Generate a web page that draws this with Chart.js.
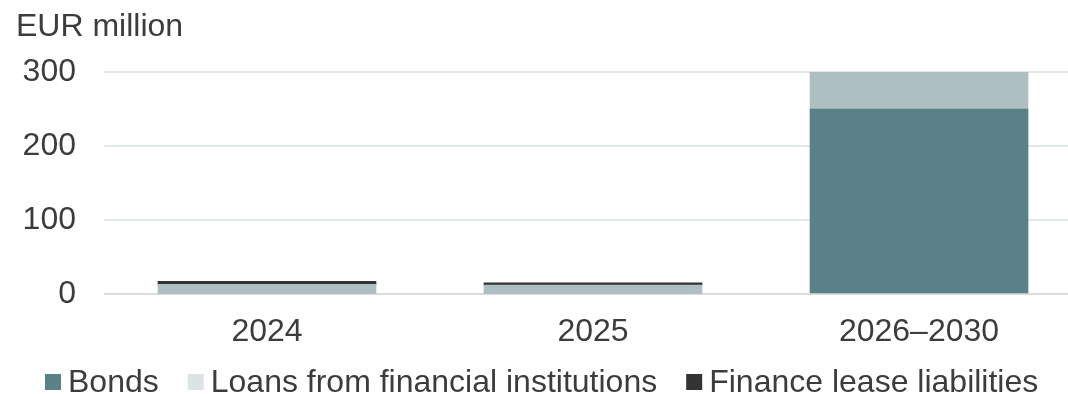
<!DOCTYPE html>
<html>
<head>
<meta charset="utf-8">
<script src="https://cdn.jsdelivr.net/npm/chart.js@4"></script>
<style>
  html, body { margin: 0; padding: 0; background: #ffffff; }
  #wrap { width: 1068px; height: 394px; position: relative; }
</style>
</head>
<body>
<div id="wrap"><canvas id="c" width="1068" height="394"></canvas></div>
<script>
// Maturity profile of borrowings, EUR million
const categories = ['2024', '2025', '2026–2030'];
const bonds = [0, 0, 250];
const loans = [13, 12, 50];
const leases = [4, 3, 0];
const yTicks = [0, 100, 200, 300];
const unitLabel = 'EUR million';
const seriesNames = ['Bonds', 'Loans from financial institutions', 'Finance lease liabilities'];

const FONT = '"Liberation Sans", Arial, sans-serif';
const TEXT = '#3c3c3c';
const SIZE = 32;

const toPoints = arr => arr.map((v, i) => ({ x: i, y: v }));

// Unit caption above the value axis and the legend row underneath the chart
const extras = {
  id: 'extras',
  afterDraw(chart) {
    const ctx = chart.ctx;
    ctx.save();
    ctx.fillStyle = TEXT;
    ctx.font = SIZE + 'px ' + FONT;
    ctx.textBaseline = 'alphabetic';
    ctx.textAlign = 'left';
    ctx.fillText(unitLabel, 16, 36);

    const y = 382;
    let x = 45;
    chart.data.datasets.forEach(ds => {
      ctx.fillStyle = ds.legendColor;
      ctx.fillRect(x, y - 8, 16, 16);
      x += 16 + 7;
      ctx.fillStyle = TEXT;
      ctx.textBaseline = 'middle';
      ctx.fillText(ds.label, x, y + 1);
      x += ctx.measureText(ds.label).width + 29;
    });
    ctx.restore();
  }
};

new Chart(document.getElementById('c'), {
  type: 'bar',
  data: {
    datasets: [
      { label: seriesNames[0], data: toPoints(bonds), backgroundColor: '#5a8187', legendColor: '#5a8187' },
      { label: seriesNames[1], data: toPoints(loans), backgroundColor: '#aebfc2', legendColor: '#dce3e5' },
      { label: seriesNames[2], data: toPoints(leases), backgroundColor: '#333333', legendColor: '#333333' }
    ]
  },
  options: {
    responsive: false,
    animation: false,
    layout: { padding: { top: 72, left: 0, right: 0, bottom: 0 } },
    datasets: { bar: { barThickness: 218 } },
    plugins: { legend: { display: false }, tooltip: { enabled: false }, title: { display: false } },
    scales: {
      x: {
        type: 'linear',
        stacked: true,
        offset: false,
        min: -0.5,
        max: 2.457,
        grid: { display: false, drawTicks: false },
        border: { display: false },
        afterBuildTicks: s => { s.ticks = categories.map((_, i) => ({ value: i })); },
        afterFit: s => { s.height = 100; },
        ticks: {
          callback: v => categories[v],
          color: TEXT,
          font: { family: FONT, size: SIZE },
          padding: 19,
          maxRotation: 0,
          autoSkip: false
        }
      },
      y: {
        stacked: true,
        min: 0,
        max: 300,
        afterBuildTicks: s => { s.ticks = yTicks.map(v => ({ value: v })); },
        afterFit: s => { s.width = 104; },
        grid: {
          drawTicks: false,
          lineWidth: 2,
          color: c => (c.tick && c.tick.value === 0) ? '#dcdcdc' : '#e2e9ea'
        },
        border: { display: false },
        ticks: {
          color: TEXT,
          font: { family: FONT, size: SIZE },
          padding: 28
        }
      }
    }
  },
  plugins: [extras]
});
</script>
</body>
</html>
